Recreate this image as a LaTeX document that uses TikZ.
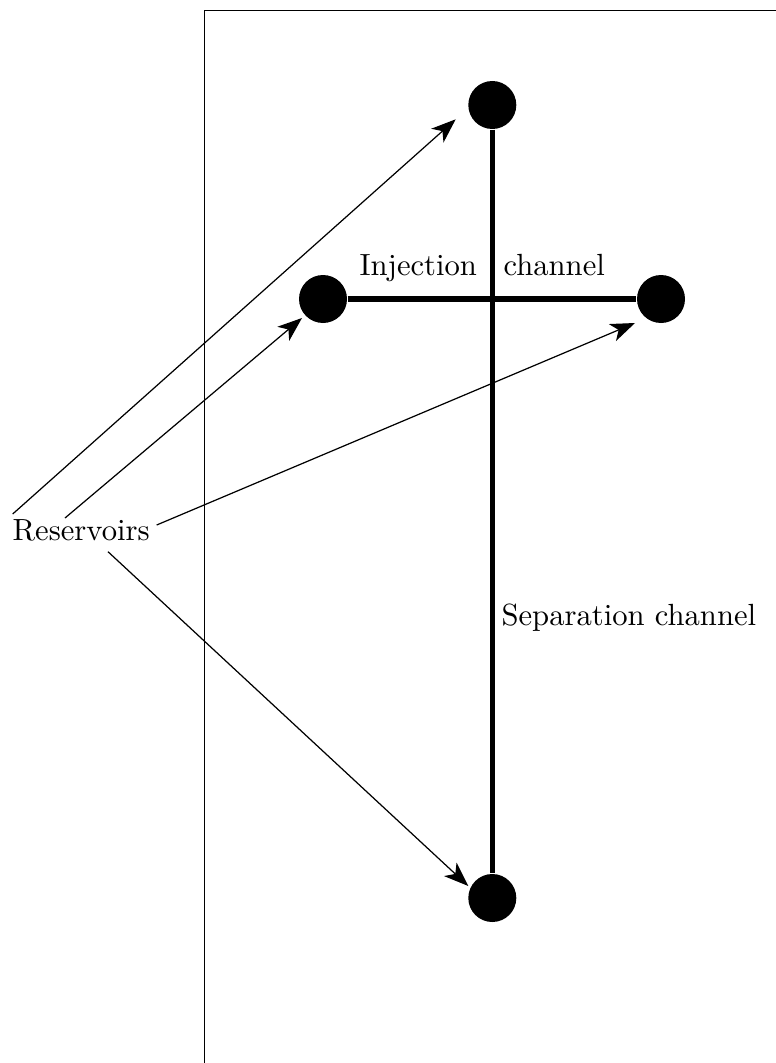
\documentclass[tikz,border=0pt]{standalone}
\usetikzlibrary{arrows.meta}
\begin{document}
\begin{tikzpicture}[x=0.3265pt,y=-0.3265pt,
  dot/.style={circle,fill=black,draw=none,minimum size=48*0.3265pt,inner sep=0pt},
  chan/.style={line width=1.8pt},
  arr/.style={line width=0.4pt,-{Stealth[length=8pt,width=6pt,inset=2.2pt]}},
  lbl/.style={inner sep=0pt,font=\normalsize}]
\useasboundingbox (0,0) rectangle (776,1063);
\clip (0,0) rectangle (776,1063);
\draw[line width=0.45pt] (204.5,1200) -- (204.5,10.5) -- (900,10.5);
% reservoirs
\node[dot] (top) at (492.3,105) {};
\node[dot] (lft) at (323,299) {};
\node[dot] (rgt) at (661,299) {};
\node[dot] (bot) at (492.3,898) {};
% channels
\draw[chan] (top) -- (bot);
\draw[chan] (lft) -- (rgt);
% labels
\node[lbl,anchor=base] (inj) at (418.3,275) {Injection};
\node[lbl,anchor=base] (chn) at (554.2,275) {channel};
\node[lbl,anchor=base west] (sep) at (501,625) {Separation channel};
\node[lbl,anchor=base west] (res) at (12,540) {Reservoirs};
% arrow ends
\coordinate (s1) at (12.7,514);
\coordinate (s2) at (65,518);
\coordinate (s3) at (156.7,525);
\coordinate (s4) at (108,551.7);
\coordinate (t1) at (455.7,119.3);
\coordinate (t2) at (302,318);
\coordinate (t3) at (635,323);
\coordinate (t4) at (468.3,886);
\draw[arr] (s1) -- (t1);
\draw[arr] (s2) -- (t2);
\draw[arr] (s3) -- (t3);
\draw[arr] (s4) -- (t4);
\end{tikzpicture}
\end{document}
